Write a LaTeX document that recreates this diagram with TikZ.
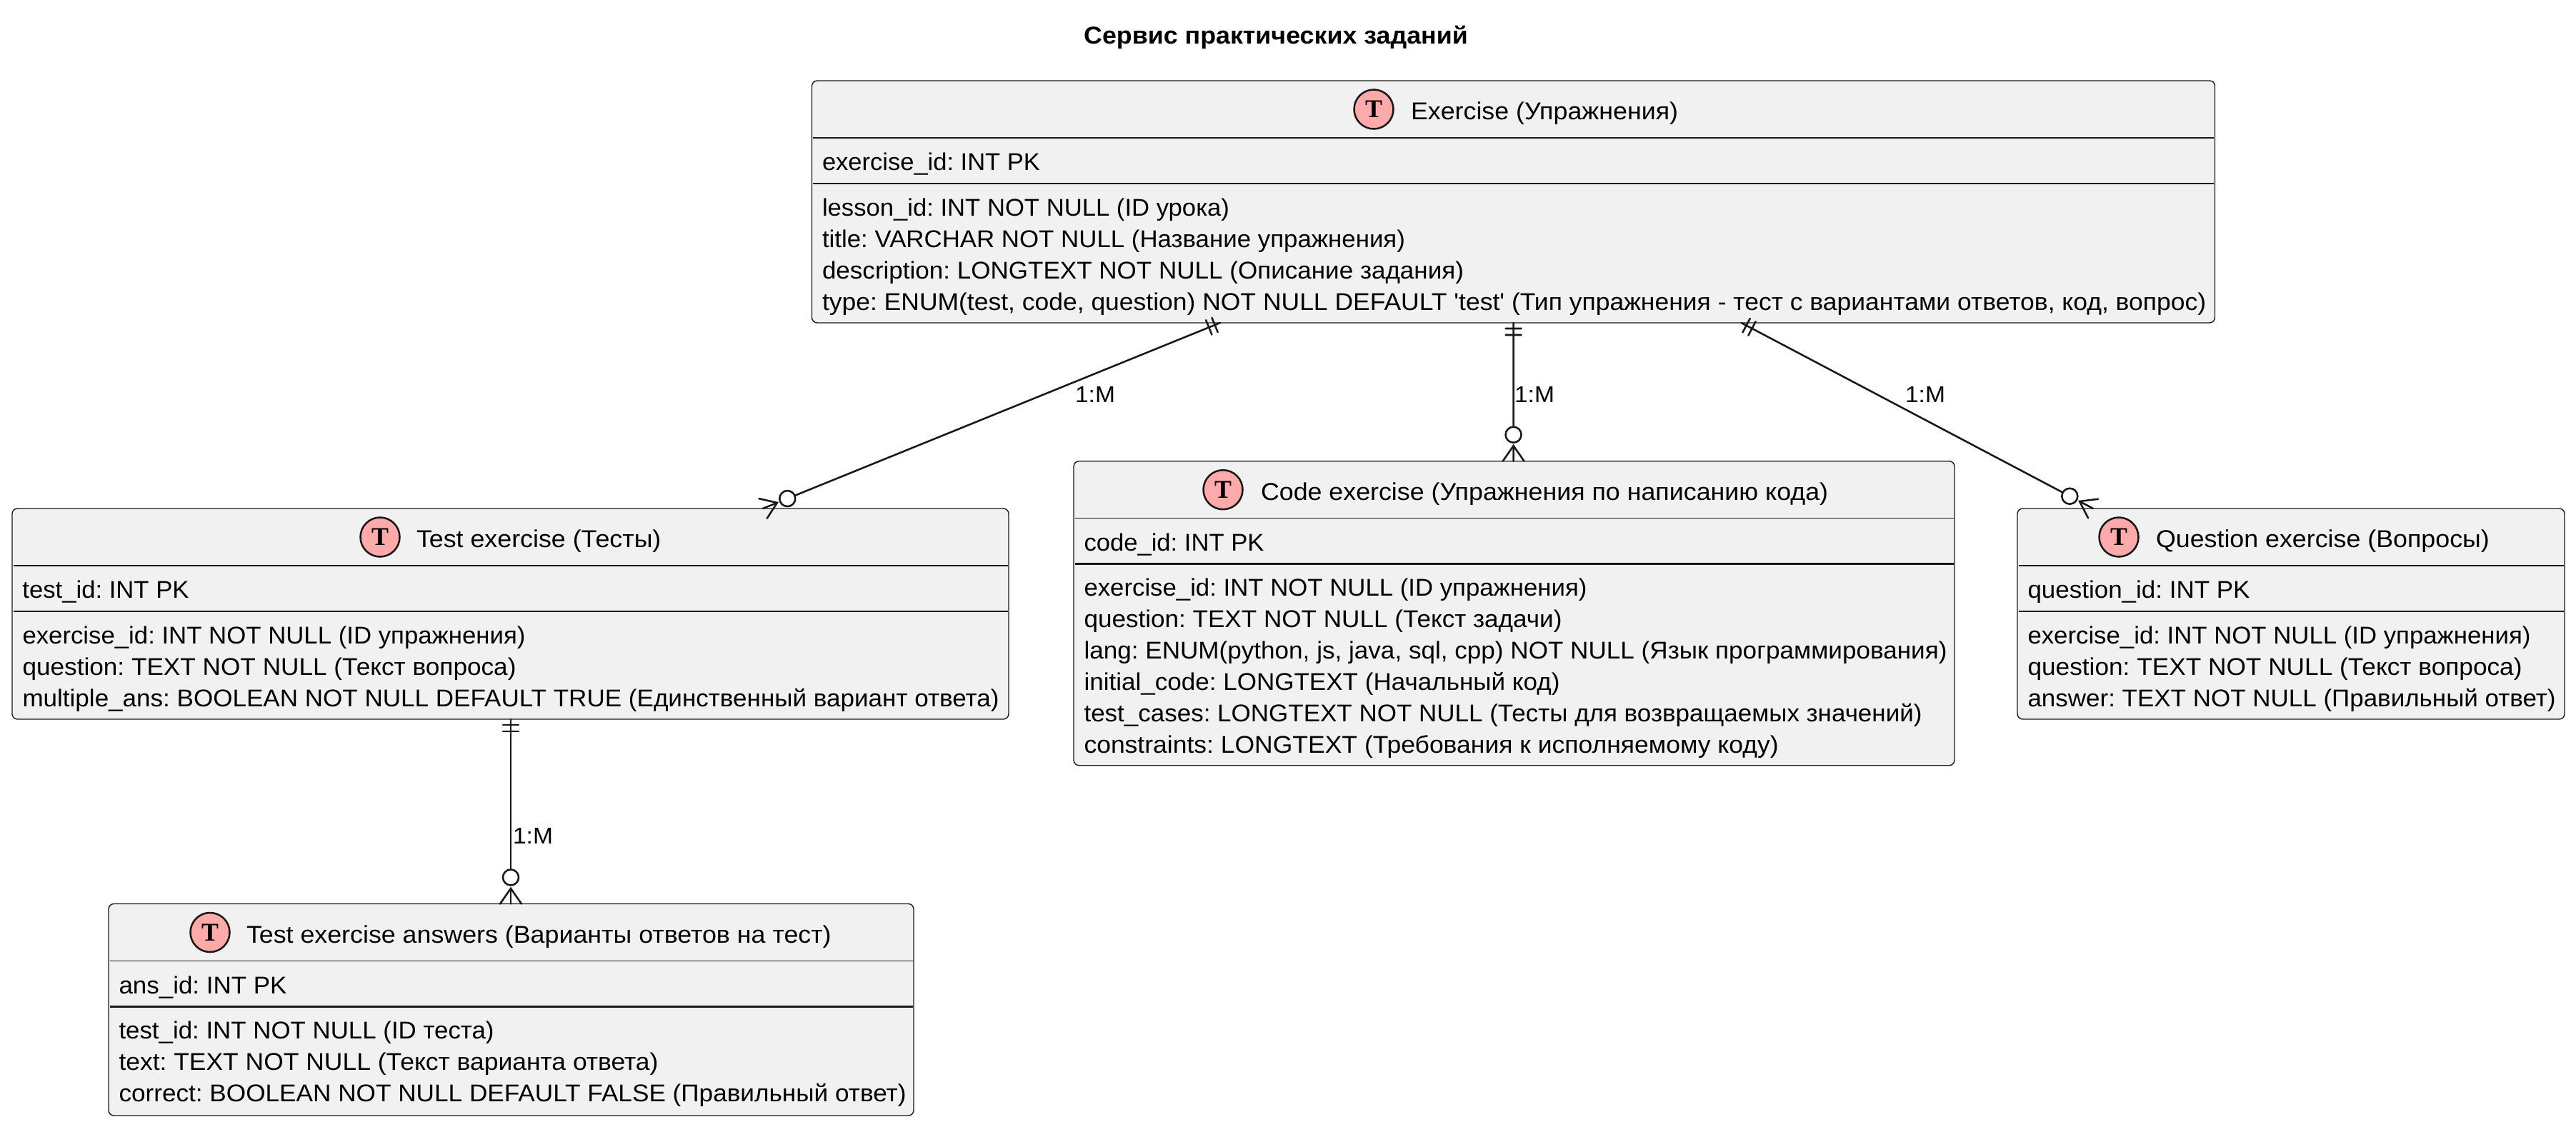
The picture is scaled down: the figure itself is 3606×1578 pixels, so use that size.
\documentclass[tikz,border=0pt]{standalone}
\usepackage{fontspec}
\usepackage{graphicx}
\usetikzlibrary{calc}
\newfontfamily\lsans{Liberation Sans}
\newfontfamily\ltitle[FakeStretch=1.05]{Liberation Sans}
\newfontfamily\lserif{Liberation Serif}
\definecolor{inkc}{HTML}{181818}
\definecolor{fillc}{HTML}{F1F1F1}
\definecolor{spotc}{HTML}{FFAAAA}
\tikzset{
  tbl/.style={draw=inkc,fill=fillc,line width=1.4*0.5669pt,rounded corners=0.15cm,anchor=north west,inner sep=0pt,outer sep=0pt},
  txt/.style={anchor=base west,inner sep=0pt,outer sep=0pt,text=black,font=\frenchspacing\lsans\fontsize{19.3pt}{24pt}\selectfont},
  hdr/.style={anchor=base west,inner sep=0pt,outer sep=0pt,text=black,font=\frenchspacing\ltitle\fontsize{19.4pt}{24pt}\selectfont},
  lab/.style={anchor=base west,inner sep=0pt,outer sep=0pt,text=black,font=\frenchspacing\ltitle\fontsize{18.2pt}{24pt}\selectfont},
  ttl/.style={anchor=base,inner sep=0pt,text=black,font=\frenchspacing\ltitle\bfseries\fontsize{19.4pt}{24pt}\selectfont},
  spot/.style={circle,draw=inkc,fill=spotc,line width=1.45pt,minimum size=1.1cm,inner sep=0pt,text=black,font=\lserif\bfseries\fontsize{20.4pt}{24pt}\selectfont},
  sepa/.style={draw=inkc,line width=0.75pt},
  sepb/.style={draw=inkc,line width=1.5pt},
  rel/.style={draw=inkc,line width=1.45pt,line cap=round},
}
% name, x, y, w, h, spot x, title x, title
\newcommand{\tbox}[8]{%
  \node[tbl,minimum width=#4*0.02cm,minimum height=#5*0.02cm] (#1) at (#2,#3) {};
  \draw[sepa] ($(#1.north west)+(1.5,80)$) -- ($(#1.north east)+(-1.5,80)$);
  \draw[sepb] ($(#1.north west)+(1.5,144)$) -- ($(#1.north east)+(-1.5,144)$);
  \node[spot] (#1s) at (#6,#3+40) {T};
  \node[hdr] (#1t) at (#7,#3+54.5) {#8};
}
\newcommand{\fit}[2]{\resizebox{\dimexpr0.02cm*\numexpr#1+3\relax\relax}{\height}{#2}}
\newcommand{\pkf}[3]{\node[txt] (#1p) at ($(#1.north west)+(14.5,125.5)$) {\fit{#2}{#3}};}
\newcommand{\fld}[4]{\node[txt] (#1f#2) at ($(#1.north west)+(14.5,{189+44*#2})$) {\fit{#3}{#4}};}
% start coord, end coord
\newcommand{\erlink}[2]{%
  \coordinate (ta) at ($(#1)!0.16cm!(#2)$);
  \coordinate (tb) at ($(#1)!0.34cm!(#2)$);
  \coordinate (apx) at ($(#2)!0.43cm!(#1)$);
  \draw[rel] (#1) -- ($(#2)!0.96cm!(#1)$);
  \draw[rel] ($(ta)!0.22cm!90:(#2)$) -- ($(ta)!0.22cm!-90:(#2)$);
  \draw[rel] ($(tb)!0.22cm!90:(#2)$) -- ($(tb)!0.22cm!-90:(#2)$);
  \draw[rel] ($(#2)!0.74cm!(#1)$) circle[radius=0.22cm];
  \draw[rel] (apx) -- (#2);
  \draw[rel] ($(#2)!0.3cm!90:(#1)$) -- (apx) -- ($(#2)!0.3cm!-90:(#1)$);
}
\begin{document}
\begin{tikzpicture}[x=0.02cm,y=-0.02cm]
\useasboundingbox (0,0) rectangle (3606,1578);
\node[ttl] (title) at (1786,62) {Сервис практических заданий};

\tbox{ex}{1136.5}{113}{1964}{339}{1923}{1975}{Exercise (Упражнения)}
\pkf{ex}{302}{exercise\_id: INT PK}
\fld{ex}{0}{567}{lesson\_id: INT NOT NULL (ID урока)}
\fld{ex}{1}{813}{title: VARCHAR NOT NULL (Название упражнения)}
\fld{ex}{2}{895}{description: LONGTEXT NOT NULL (Описание задания)}
\fld{ex}{3}{1934}{type: ENUM(test, code, question) NOT NULL DEFAULT 'test' (Тип упражнения - тест с вариантами ответов, код, вопрос)}

\tbox{te}{17}{712}{1395}{295}{532}{583}{Test exercise (Тесты)}
\pkf{te}{230}{test\_id: INT PK}
\fld{te}{0}{701}{exercise\_id: INT NOT NULL (ID упражнения)}
\fld{te}{1}{688}{question: TEXT NOT NULL (Текст вопроса)}
\fld{te}{2}{1364}{multiple\_ans: BOOLEAN NOT NULL DEFAULT TRUE (Единственный вариант ответа)}

\tbox{co}{1503}{645.7}{1233}{426}{1712}{1765}{Code exercise (Упражнения по написанию кода)}
\pkf{co}{249}{code\_id: INT PK}
\fld{co}{0}{701}{exercise\_id: INT NOT NULL (ID упражнения)}
\fld{co}{1}{666}{question: TEXT NOT NULL (Текст задачи)}
\fld{co}{2}{1205}{lang: ENUM(python, js, java, sql, cpp) NOT NULL (Язык программирования)}
\fld{co}{3}{663}{initial\_code: LONGTEXT (Начальный код)}
\fld{co}{4}{1170}{test\_cases: LONGTEXT NOT NULL (Тесты для возвращаемых значений)}
\fld{co}{5}{969}{constraints: LONGTEXT (Требования к исполняемому коду)}

\tbox{qu}{2824}{712}{766}{295}{2966}{3018}{Question exercise (Вопросы)}
\pkf{qu}{308}{question\_id: INT PK}
\fld{qu}{0}{701}{exercise\_id: INT NOT NULL (ID упражнения)}
\fld{qu}{1}{689}{question: TEXT NOT NULL (Текст вопроса)}
\fld{qu}{2}{736}{answer: TEXT NOT NULL (Правильный ответ)}

\tbox{an}{152}{1265.5}{1127}{296.5}{294}{345}{Test exercise answers (Варианты ответов на тест)}
\pkf{an}{232}{ans\_id: INT PK}
\fld{an}{0}{522}{test\_id: INT NOT NULL (ID теста)}
\fld{an}{1}{752}{text: TEXT NOT NULL (Текст варианта ответа)}
\fld{an}{2}{1099}{correct: BOOLEAN NOT NULL DEFAULT FALSE (Правильный ответ)}

\coordinate (s1) at ($(ex.south west)+(571.5,0)$);
\coordinate (e1) at ($(te.north west)+(1051,0)$);
\coordinate (s2) at ($(ex.south west)+(982,0)$);
\coordinate (e2) at ($(co.north west)+(615.6,0)$);
\coordinate (s3) at ($(ex.south west)+(1301,0)$);
\coordinate (e3) at ($(qu.north west)+(106,0)$);
\coordinate (s4) at ($(te.south west)+(698,0)$);
\coordinate (e4) at ($(an.north west)+(563,0)$);
\erlink{s1}{e1}
\erlink{s2}{e2}
\erlink{s3}{e3}
\erlink{s4}{e4}
\node[lab] (l1) at (1505,563) {1:M};
\node[lab] (l2) at (2120,563) {1:M};
\node[lab] (l3) at (2667,563) {1:M};
\node[lab] (l4) at (718,1181.5) {1:M};
\end{tikzpicture}
\end{document}
